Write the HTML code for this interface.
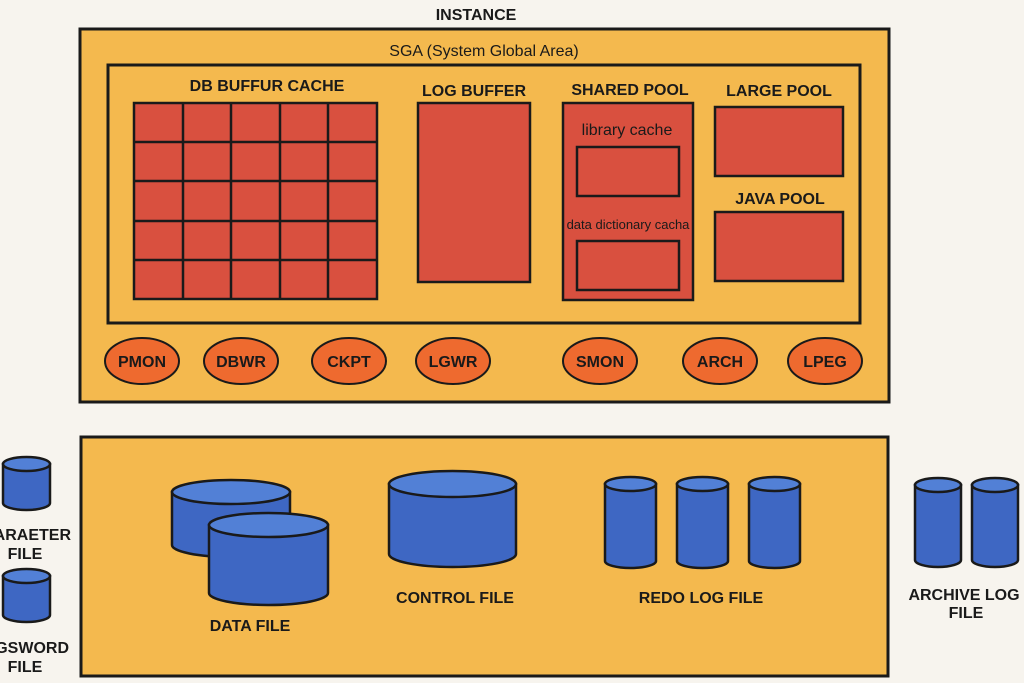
<!DOCTYPE html>
<html><head><meta charset="utf-8"><style>
html,body{margin:0;padding:0;background:#f7f4ee;}
svg{display:block;font-family:"Liberation Sans",sans-serif;}
.t{font-weight:bold;font-size:16px;fill:#1a1a1a;text-anchor:middle;}
.s{font-size:16px;fill:#1a1a1a;text-anchor:middle;}
.o{fill:#ee6a2f;stroke:#1a1a1a;stroke-width:2;}
.r{fill:#d9503f;stroke:#1a1a1a;stroke-width:2.5;}
.c{fill:#3e67c3;stroke:#1a1a1a;stroke-width:2.5;}
.ct{fill:#5280d6;stroke:#1a1a1a;stroke-width:2.5;}
</style></head><body>
<svg width="1024" height="683" viewBox="0 0 1024 683">
<rect width="1024" height="683" fill="#f7f4ee"/>
<text class="t" x="476" y="20">INSTANCE</text>
<rect x="80" y="29" width="809" height="373" fill="#f4b94e" stroke="#1a1a1a" stroke-width="3"/>
<text class="s" x="484" y="56">SGA (System Global Area)</text>
<rect x="108" y="65" width="752" height="258" fill="none" stroke="#1a1a1a" stroke-width="3"/>
<text class="t" x="267" y="91">DB BUFFUR CACHE</text>
<g class="r">
<rect x="134" y="103" width="243" height="196"/>
</g>
<g stroke="#1a1a1a" stroke-width="2.5">
<line x1="183" y1="103" x2="183" y2="299"/><line x1="231" y1="103" x2="231" y2="299"/>
<line x1="280" y1="103" x2="280" y2="299"/><line x1="328" y1="103" x2="328" y2="299"/>
<line x1="134" y1="142" x2="377" y2="142"/><line x1="134" y1="181" x2="377" y2="181"/>
<line x1="134" y1="221" x2="377" y2="221"/><line x1="134" y1="260" x2="377" y2="260"/>
</g>
<text class="t" x="474" y="96">LOG BUFFER</text>
<rect class="r" x="418" y="103" width="112" height="179"/>
<text class="t" x="630" y="95">SHARED POOL</text>
<rect class="r" x="563" y="103" width="130" height="197"/>
<text class="s" x="627" y="135">library cache</text>
<rect class="r" x="577" y="147" width="102" height="49"/>
<text class="s" x="628" y="229" style="font-size:13px">data dictionary cacha</text>
<rect class="r" x="577" y="241" width="102" height="49"/>
<text class="t" x="779" y="96">LARGE POOL</text>
<rect class="r" x="715" y="107" width="128" height="69"/>
<text class="t" x="780" y="204">JAVA POOL</text>
<rect class="r" x="715" y="212" width="128" height="69"/>
<g>
<ellipse class="o" cx="142" cy="361" rx="37" ry="23"/><text class="t" x="142" y="367">PMON</text>
<ellipse class="o" cx="241" cy="361" rx="37" ry="23"/><text class="t" x="241" y="367">DBWR</text>
<ellipse class="o" cx="349" cy="361" rx="37" ry="23"/><text class="t" x="349" y="367">CKPT</text>
<ellipse class="o" cx="453" cy="361" rx="37" ry="23"/><text class="t" x="453" y="367">LGWR</text>
<ellipse class="o" cx="600" cy="361" rx="37" ry="23"/><text class="t" x="600" y="367">SMON</text>
<ellipse class="o" cx="720" cy="361" rx="37" ry="23"/><text class="t" x="720" y="367">ARCH</text>
<ellipse class="o" cx="825" cy="361" rx="37" ry="23"/><text class="t" x="825" y="367">LPEG</text>
</g>
<rect x="81" y="437" width="807" height="239" fill="#f4b94e" stroke="#1a1a1a" stroke-width="3"/>
<!-- cylinders -->
<g>
<path class="c" d="M3,464 L3,503 A23.5,7 0 0 0 50,503 L50,464 Z"/><ellipse class="ct" cx="26.5" cy="464" rx="23.5" ry="7"/>
<path class="c" d="M3,576 L3,615 A23.5,7 0 0 0 50,615 L50,576 Z"/><ellipse class="ct" cx="26.5" cy="576" rx="23.5" ry="7"/>
<path class="c" d="M172,492 L172,545 A59,12 0 0 0 290,545 L290,492 Z"/><ellipse class="ct" cx="231" cy="492" rx="59" ry="12"/>
<path class="c" d="M209,525 L209,593 A59.5,12 0 0 0 328,593 L328,525 Z"/><ellipse class="ct" cx="268.5" cy="525" rx="59.5" ry="12"/>
<path class="c" d="M389,484 L389,554 A63.5,13 0 0 0 516,554 L516,484 Z"/><ellipse class="ct" cx="452.5" cy="484" rx="63.5" ry="13"/>
<path class="c" d="M605,484 L605,561 A25.5,7 0 0 0 656,561 L656,484 Z"/><ellipse class="ct" cx="630.5" cy="484" rx="25.5" ry="7"/>
<path class="c" d="M677,484 L677,561 A25.5,7 0 0 0 728,561 L728,484 Z"/><ellipse class="ct" cx="702.5" cy="484" rx="25.5" ry="7"/>
<path class="c" d="M749,484 L749,561 A25.5,7 0 0 0 800,561 L800,484 Z"/><ellipse class="ct" cx="774.5" cy="484" rx="25.5" ry="7"/>
<path class="c" d="M915,485 L915,560 A23,7 0 0 0 961,560 L961,485 Z"/><ellipse class="ct" cx="938" cy="485" rx="23" ry="7"/>
<path class="c" d="M972,485 L972,560 A23,7 0 0 0 1018,560 L1018,485 Z"/><ellipse class="ct" cx="995" cy="485" rx="23" ry="7"/>
</g>
<text class="t" x="250" y="631">DATA FILE</text>
<text class="t" x="455" y="603">CONTROL FILE</text>
<text class="t" x="701" y="603">REDO LOG FILE</text>
<text class="t" x="964" y="600">ARCHIVE LOG</text>
<text class="t" x="966" y="618">FILE</text>
<text class="t" x="71" y="540" style="text-anchor:end">ARAETER</text>
<text class="t" x="25" y="559">FILE</text>
<text class="t" x="69" y="653" style="text-anchor:end">GSWORD</text>
<text class="t" x="25" y="672">FILE</text>
</svg>
</body></html>
